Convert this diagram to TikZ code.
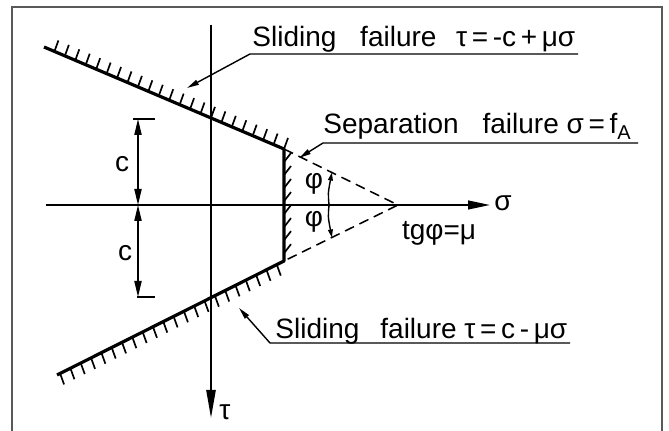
\documentclass[tikz,border=0pt]{standalone}
\usepackage{fontspec}
\setmainfont{Liberation Sans}
\usepackage{tikz}
\usetikzlibrary{arrows.meta, calc}

\newcommand\lblfont{\fontsize{14pt}{17pt}\selectfont}
\newcommand\subfont{\fontsize{10pt}{11pt}\selectfont}

\begin{document}
\begin{tikzpicture}[x=0.5pt, y=-0.5pt,
    envelope/.style={line width=1.6pt, line join=round},
    hatch/.style={line width=0.85pt},
    axis/.style={line width=0.9pt},
    leader/.style={line width=0.7pt, -{Triangle[length=6pt, width=2.6pt]}},
    dimline/.style={line width=0.7pt, {Triangle[length=8pt, width=3.6pt]}-{Triangle[length=8pt, width=3.6pt]}},
    phiarrow/.style={line width=0.7pt, -{Triangle[length=4pt, width=2.4pt]}},
    lbl/.style={font=\lblfont, inner sep=0pt}]

    \useasboundingbox (0,0) rectangle (669,431);
    \draw[black!65, line width=1pt] (12,7) rectangle (662,445);

    \coordinate (s0) at (46,205);
    \coordinate (s1) at (490,205);
    \coordinate (t0) at (211,25);
    \coordinate (t1) at (211,418);
    \draw[axis, -{Triangle[length=11pt, width=4.4pt]}] (s0) -- (s1);
    \draw[axis, -{Triangle[length=14pt, width=4.6pt]}] (t0) -- (t1);
    \node[lbl, anchor=west] (sig) at (494,203) {σ};
    \node[lbl, anchor=west] (tau) at (219,412) {τ};

    \coordinate (A1) at (44,47);
    \coordinate (K1) at (284,149);
    \coordinate (K2) at (284,261);
    \coordinate (B1) at (57,375);
    \draw[envelope] (A1) -- (K1) -- (K2) -- (B1);
    \foreach \i in {1,...,23}
        \draw[hatch] ($(A1)!\i/23!(K1)$) -- ++(4,-11);
    \foreach \i in {0,...,21}
        \draw[hatch] ($(B1)!{(\i+0.3)/22}!(K2)$) -- ++(4,11);
    \foreach \i in {1,...,8}
        \draw[hatch] ($(K1)!{\i/8.6}!(K2)$) -- ++(7,-9);

    \coordinate (P) at (398,205);
    \draw[line width=0.75pt, dash pattern=on 5pt off 3pt] (K1) -- (P) -- (K2);

    \coordinate (f0) at (329,205);
    \coordinate (f1) at ($(P)!0.58!(K1)$);
    \coordinate (f2) at ($(P)!0.58!(K2)$);
    \draw[phiarrow] (f0) .. controls (328,193) .. (f1);
    \draw[phiarrow] (f0) .. controls (328,217) .. (f2);
    \fill (f0) circle (1.6);
    \node[lbl] (phiup) at (314,184) {φ};
    \node[lbl] (philow) at (314,222) {φ};
    \node[lbl] (tg) at (439,233) {tgφ=μ};

    \coordinate (c0) at (138,119);
    \coordinate (c1) at (138,205);
    \coordinate (c2) at (138,297);
    \draw[dimline] (c0) -- (c1);
    \draw[dimline] (c1) -- (c2);
    \draw[hatch] ($(c0)+(-5,0)$) -- ($(c0)+(17,0)$);
    \draw[hatch] ($(c2)+(-1,0)$) -- ($(c2)+(17,0)$);
    \node[lbl] (cup) at (122,164) {c};
    \node[lbl] (clow) at (125,253) {c};

    \node[lbl, anchor=base west] (slideup) at (252,47) {Sliding\hspace{0.85em}failure\hspace{0.7em}τ\,=\,-c\,+\,μσ};
    \coordinate (kneeup) at (250,54);
    \coordinate (endup) at (578,54);
    \coordinate (tipup) at (187,88);
    \draw[leader] (endup) -- (kneeup) -- (tipup);

    \node[lbl, anchor=base west] (sepa) at (323,134) {Separation\hspace{0.85em}failure σ\,=\,f\raisebox{-0.35ex}{\subfont A}};
    \coordinate (kneesep) at (323,143);
    \coordinate (endsep) at (638,143);
    \coordinate (tipsep) at (299,158);
    \draw[leader] (endsep) -- (kneesep) -- (tipsep);

    \node[lbl, anchor=base west] (slidelow) at (275,339) {Sliding\hspace{0.75em}failure τ\,=\,c\,-\,μσ};
    \coordinate (kneelow) at (270,343);
    \coordinate (endlow) at (570,343);
    \coordinate (tiplow) at (239,308);
    \draw[leader] (endlow) -- (kneelow) -- (tiplow);
\end{tikzpicture}
\end{document}
